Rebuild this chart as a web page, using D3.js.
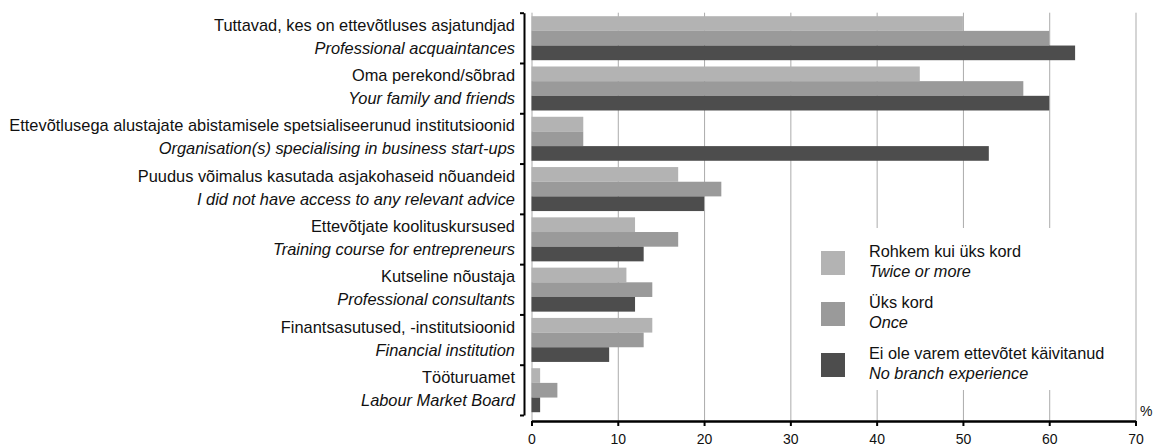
<html>
<head>
    <script src="https://d3js.org/d3.v7.min.js"></script>
    <style>
    body { margin: 0; }
    text { font-family: "Liberation Sans", Arial, sans-serif; fill: #111; }
    .gridlines line { stroke: #ababab; }
    .gridlines .domain { stroke: none; }
    .x.axis .domain { stroke: #000; stroke-width: 2.5; }
    .x.axis line { stroke: #000; stroke-width: 2; }
    .y.axis .domain { stroke: #000; stroke-width: 2; }
    .y.axis line { stroke: #000; stroke-width: 2; }
    </style>
</head>
<body>
<svg id="all" width="1155" height="446"></svg>
<script>
// categories (Estonian / English)
const labelsEt = ["Tuttavad, kes on ettevõtluses asjatundjad", "Oma perekond/sõbrad",
    "Ettevõtlusega alustajate abistamisele spetsialiseerunud institutsioonid",
    "Puudus võimalus kasutada asjakohaseid nõuandeid", "Ettevõtjate koolituskursused",
    "Kutseline nõustaja", "Finantsasutused, -institutsioonid", "Tööturuamet"];
const labelsEn = ["Professional acquaintances", "Your family and friends",
    "Organisation(s) specialising in business start-ups", "I did not have access to any relevant advice",
    "Training course for entrepreneurs", "Professional consultants", "Financial institution", "Labour Market Board"];

// series
const seriesEt = ["Rohkem kui üks kord", "Üks kord", "Ei ole varem ettevõtet käivitanud"];
const seriesEn = ["Twice or more", "Once", "No branch experience"];
const twiceOrMore = [50, 45, 6, 17, 12, 11, 14, 1];
const once = [60, 57, 6, 22, 17, 14, 13, 3];
const noExperience = [63, 60, 53, 20, 13, 12, 9, 1];
const xTicks = [0, 10, 20, 30, 40, 50, 60, 70];
const colors = ["#b3b3b3", "#9a9a9a", "#4d4d4d"];

const seriesValues = [twiceOrMore, once, noExperience];
const data = labelsEt.map((l, i) => ({
    cat: l, en: labelsEn[i],
    values: seriesValues.map((s, j) => ({key: j, value: s[i]}))
}));

const svg = d3.select("svg#all");
const plotTop = 12.7, plotBottom = 415, axisY = 421;

const xScale = d3.scaleLinear().domain([0, 70]).range([531.5, 1135.5]);
const yScale = d3.scaleBand().domain(labelsEt).range([plotTop, plotBottom]).padding(0);
const subScale = d3.scaleBand().domain([0, 1, 2]).range([3.5, 47.5]).padding(0);
const colScale = d3.scaleOrdinal().domain([0, 1, 2]).range(colors);

// gridlines
svg.append("g")
    .attr("class", "gridlines")
    .attr("transform", `translate(0,${axisY})`)
    .call(d3.axisBottom(xScale).tickValues(xTicks).tickSize(-(axisY - plotTop)).tickFormat(""));

// bars
let groups = svg.append("g").selectAll("g").data(data)
    .join("g")
    .attr("transform", d => `translate(0,${yScale(d.cat)})`);
groups.selectAll("rect")
    .data(d => d.values)
    .join("rect")
    .attr("x", xScale(0))
    .attr("y", d => subScale(d.key))
    .attr("width", d => xScale(d.value) - xScale(0))
    .attr("height", subScale.bandwidth())
    .attr("fill", d => colScale(d.key));

// legend box (white, covers gridlines)
const legend = svg.append("g");
legend.append("rect")
    .attr("x", 800).attr("y", 228)
    .attr("width", 318).attr("height", 162)
    .attr("fill", "#fff");
const legItems = legend.selectAll("g.item").data(seriesEt)
    .join("g")
    .attr("class", "item")
    .attr("transform", (d, i) => `translate(821,${251 + i * 51})`);
legItems.append("rect")
    .attr("width", 24).attr("height", 24)
    .attr("fill", (d, i) => colors[i]);
legItems.append("text")
    .attr("x", 48).attr("y", 6)
    .style("font-size", "16.3px")
    .text(d => d);
legItems.append("text")
    .attr("x", 48).attr("y", 26)
    .style("font-size", "16.3px")
    .style("font-style", "italic")
    .text((d, i) => seriesEn[i]);

// x axis
svg.append("g")
    .attr("class", "x axis")
    .attr("transform", `translate(0,${axisY})`)
    .call(d3.axisBottom(xScale).tickValues(xTicks).tickSize(5).tickSizeOuter(0).tickPadding(8))
    .selectAll("text")
    .style("font-size", "14px")
    .attr("fill", "#111");

svg.append("text")
    .attr("x", 1140).attr("y", 416)
    .style("font-size", "14px")
    .text("%");

// left bracket axis
const idxScale = d3.scaleLinear().domain([0, 8]).range([plotTop, plotBottom]);
svg.append("g")
    .attr("class", "y axis")
    .attr("transform", "translate(524,0)")
    .call(d3.axisLeft(idxScale).tickValues(d3.range(0, 9)).tickSize(4).tickSizeOuter(0).tickFormat(""));

// category labels
const lab = svg.append("g").selectAll("g").data(data)
    .join("g")
    .attr("transform", d => `translate(515,${yScale(d.cat) + yScale.bandwidth() / 2})`);
lab.append("text")
    .attr("y", -7)
    .attr("text-anchor", "end")
    .style("font-size", "16.4px")
    .text(d => d.cat);
lab.append("text")
    .attr("y", 16)
    .attr("text-anchor", "end")
    .style("font-size", "16.4px")
    .style("font-style", "italic")
    .text(d => d.en);
</script>
</body>
</html>
